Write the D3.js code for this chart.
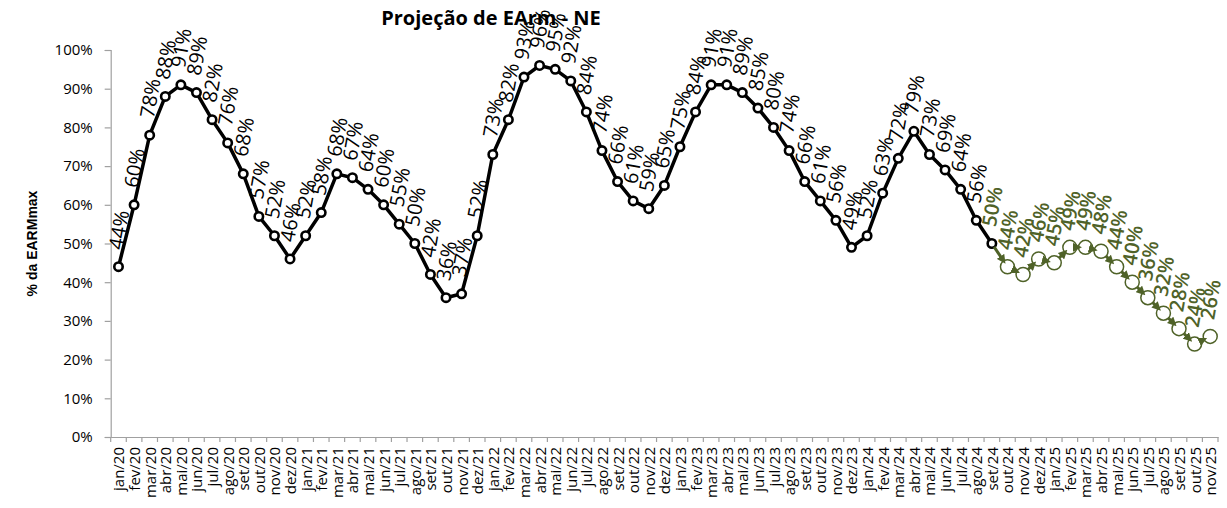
<!DOCTYPE html>
<html><head><meta charset="utf-8">
<script src="https://cdn.jsdelivr.net/npm/d3@7"></script>
<style>body{margin:0;background:#fff}svg{display:block}</style>
</head><body>
<svg id="c" width="1227" height="508"></svg>
<script>
const months = ["jan","fev","mar","abr","mai","jun","jul","ago","set","out","nov","dez"];
const categories = [];
for (const yy of ["20","21","22","23","24","25"]) for (const m of months) categories.push(m + "/" + yy);
categories.splice(categories.indexOf("nov/25") + 1);

const histValues = [44,60,78,88,91,89,82,76,68,57,52,46,
  52,58,68,67,64,60,55,50,42,36,37,52,
  73,82,93,96,95,92,84,74,66,61,59,65,
  75,84,91,91,89,85,80,74,66,61,56,49,
  52,63,72,79,73,69,64,56,50];
const projStart = "set/24";
const projValues = [50,44,42,46,45,49,49,48,44,40,36,32,28,24,26];
const yTicks = [0,10,20,30,40,50,60,70,80,90,100];

const W = 1227, H = 508;
const M = {l:110.7, r:9, t:50, b:71};
const svg = d3.select("#c");
const green = "#4f6228";

const x = d3.scaleBand().domain(categories).range([M.l, W - M.r]).paddingInner(0).paddingOuter(0);
const y = d3.scaleLinear().domain([0,100]).range([H - M.b, M.t]);
const cx = c => x(c) + x.bandwidth()/2;

const hist = histValues.map((v,i) => ({c:categories[i], v}));
const p0 = categories.indexOf(projStart);
const proj = projValues.map((v,i) => ({c:categories[p0+i], v}));

// title
svg.append("text").attr("x", 491).attr("y", 25).attr("text-anchor","middle")
  .attr("font-family","Open Sans").attr("font-weight","bold").attr("font-size",20)
  .text("Projeção de EArm - NE");

// y axis
const ya = svg.append("g").attr("transform",`translate(${M.l},0)`)
  .call(d3.axisLeft(y).tickValues(yTicks).tickSize(6).tickPadding(12).tickFormat(d => d + "%"));
ya.selectAll("path,line").attr("stroke","#a0a0a0").attr("stroke-width",1.2);
ya.selectAll("text").attr("font-family","Open Sans").attr("font-size",15).attr("fill","#000");

svg.append("text").attr("transform",`translate(32,${(M.t + H - M.b)/2}) rotate(-90)`)
  .attr("text-anchor","middle").attr("dominant-baseline","central")
  .attr("font-family","Liberation Sans").attr("font-weight","bold").attr("font-size",14)
  .text("% da EARMmax");

// x axis
const xa = svg.append("g").attr("transform",`translate(0,${H - M.b})`)
  .call(d3.axisBottom(x).tickSize(0).tickPadding(0));
xa.select("path.domain").attr("stroke","#a0a0a0").attr("stroke-width",1.2);
xa.selectAll(".tick text").attr("font-family","Open Sans").attr("font-size",15).attr("fill","#000")
  .attr("text-anchor","end").attr("dominant-baseline","central")
  .attr("transform","translate(0,10) rotate(-90)").attr("dy",null).attr("y",0).attr("x",0);
const bounds = categories.map(c => x(c)).concat([x(categories[categories.length-1]) + x.bandwidth()]);
svg.append("g").selectAll("line").data(bounds).join("line")
  .attr("x1",d=>d).attr("x2",d=>d).attr("y1",H-M.b).attr("y2",H-M.b+5)
  .attr("stroke","#a0a0a0").attr("stroke-width",1.2);

// historical line
const line = d3.line().x(d => cx(d.c)).y(d => y(d.v));
svg.append("path").datum(hist).attr("d", line).attr("fill","none")
  .attr("stroke","#000").attr("stroke-width",3.5).attr("stroke-linejoin","round");
svg.append("g").selectAll("circle").data(hist).join("circle")
  .attr("cx", d => cx(d.c)).attr("cy", d => y(d.v)).attr("r", 4.2)
  .attr("fill","#fff").attr("stroke","#000").attr("stroke-width",2.6);

// projection
const defs = svg.append("defs");
defs.append("marker").attr("id","arr").attr("viewBox","0 0 10 10").attr("refX",5).attr("refY",5)
  .attr("markerWidth",3).attr("markerHeight",3).attr("orient","auto")
  .append("path").attr("d","M0,0 L10,5 L0,10 z").attr("fill",green);
const R = 7;
svg.append("g").selectAll("circle").data(proj.slice(1)).join("circle")
  .attr("cx", d => cx(d.c)).attr("cy", d => y(d.v)).attr("r", R)
  .attr("fill","#fff").attr("stroke",green).attr("stroke-width",1.5);
const segs = d3.pairs(proj);
svg.append("g").selectAll("line").data(segs).join("line")
  .each(function([a,b], i){
    const x1 = cx(a.c), y1 = y(a.v), x2 = cx(b.c), y2 = y(b.v);
    const dx = x2 - x1, dy = y2 - y1, L = Math.hypot(dx, dy);
    const s = (i === 0 ? 4 : R) / L, e = (R + 1) / L;
    d3.select(this).attr("x1", x1 + dx*s).attr("y1", y1 + dy*s)
      .attr("x2", x2 - dx*e).attr("y2", y2 - dy*e);
  })
  .attr("stroke",green).attr("stroke-width",3).attr("marker-end","url(#arr)");

// labels
const ang = -80;
function labels(data, color, weight){
  svg.append("g").selectAll("text").data(data).join("text")
    .attr("transform", d => `translate(${cx(d.c)},${y(d.v)-37}) rotate(${ang})`)
    .attr("text-anchor","middle").attr("dominant-baseline","central")
    .attr("font-family","Open Sans").attr("font-weight",weight).attr("font-size",20).attr("fill",color)
    .text(d => d.v + "%");
}
labels(hist.slice(0, -1), "#000", "normal");
labels(proj, green, "600");
</script>
</body></html>
